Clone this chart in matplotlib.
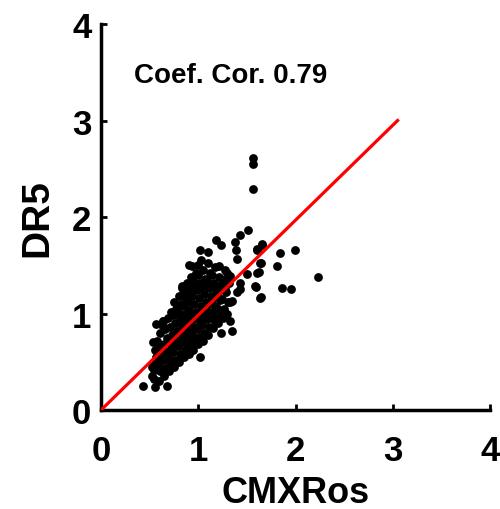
import matplotlib.pyplot as plt
import numpy as np

plt.rcParams['font.family'] = ['Liberation Sans', 'DejaVu Sans']

# dense core of the cloud, read column by column
cmx_core = [0.52, 0.55, 0.54, 0.57, 0.56, 0.53,
            0.60, 0.61, 0.59, 0.62, 0.60, 0.58, 0.61, 0.63,
            0.65, 0.66, 0.64, 0.67, 0.65, 0.68, 0.66, 0.64,
            0.70, 0.71, 0.69, 0.72, 0.70, 0.73, 0.71, 0.69, 0.72,
            0.75, 0.76, 0.74, 0.77, 0.75, 0.78, 0.76, 0.74, 0.77, 0.75,
            0.80, 0.81, 0.79, 0.82, 0.80, 0.83, 0.81, 0.79, 0.82, 0.80, 0.83,
            0.85, 0.86, 0.84, 0.87, 0.85, 0.88, 0.86, 0.84, 0.87, 0.85, 0.88,
            0.90, 0.91, 0.89, 0.92, 0.90, 0.93, 0.91, 0.89, 0.92, 0.90, 0.93, 0.91,
            0.95, 0.96, 0.94, 0.97, 0.95, 0.98, 0.96, 0.94, 0.97, 0.95, 0.98,
            1.00, 1.01, 0.99, 1.02, 1.00, 1.03, 1.01, 0.99, 1.02, 1.00, 1.03,
            1.05, 1.06, 1.04, 1.07, 1.05, 1.08, 1.06, 1.04, 1.07, 1.05,
            1.10, 1.11, 1.09, 1.12, 1.10, 1.13, 1.11, 1.09, 1.12, 1.10,
            1.15, 1.16, 1.14, 1.17, 1.15, 1.18, 1.16, 1.14, 1.17,
            1.20, 1.21, 1.19, 1.22, 1.20, 1.23, 1.21,
            1.25, 1.26, 1.24, 1.27, 1.25, 1.28,
            1.30, 1.31, 1.29, 1.32, 1.30]
dr5_core = [0.35, 0.42, 0.50, 0.55, 0.62, 0.70,
            0.30, 0.40, 0.48, 0.56, 0.64, 0.72, 0.80, 0.88,
            0.35, 0.44, 0.52, 0.60, 0.68, 0.75, 0.84, 0.92,
            0.40, 0.48, 0.55, 0.63, 0.70, 0.78, 0.86, 0.95, 1.02,
            0.45, 0.52, 0.60, 0.68, 0.75, 0.82, 0.90, 0.98, 1.05, 1.12,
            0.50, 0.58, 0.66, 0.74, 0.82, 0.88, 0.95, 1.02, 1.10, 1.18, 1.26,
            0.55, 0.62, 0.70, 0.78, 0.86, 0.93, 1.00, 1.08, 1.15, 1.22, 1.32,
            0.58, 0.66, 0.74, 0.82, 0.90, 0.97, 1.04, 1.12, 1.20, 1.28, 1.38, 1.50,
            0.62, 0.70, 0.78, 0.86, 0.94, 1.02, 1.10, 1.18, 1.26, 1.34, 1.42,
            0.68, 0.76, 0.84, 0.92, 1.00, 1.08, 1.16, 1.24, 1.32, 1.40, 1.55,
            0.72, 0.80, 0.88, 0.96, 1.04, 1.12, 1.20, 1.28, 1.36, 1.45,
            0.78, 0.86, 0.94, 1.02, 1.10, 1.18, 1.26, 1.34, 1.42, 1.52,
            0.85, 0.93, 1.00, 1.08, 1.16, 1.24, 1.32, 1.40, 1.48,
            0.90, 0.98, 1.06, 1.14, 1.22, 1.30, 1.38,
            0.95, 1.05, 1.15, 1.25, 1.35, 1.45,
            1.00, 1.12, 1.22, 1.32, 1.42]

# sparser points around the edge of the cloud
cmx_edge = [1.56, 1.56, 1.56, 1.51, 1.43, 1.38, 1.39, 1.40, 1.60, 1.66,
            1.84, 1.99, 1.81, 2.23, 1.65, 1.62, 1.50, 1.43, 1.58, 1.40,
            1.86, 1.95, 1.65, 1.33, 1.35, 1.18, 1.23, 1.02, 1.10, 0.94,
            1.00, 1.21, 0.83, 0.57, 0.64, 0.43, 0.56, 0.68, 0.54, 0.52,
            1.33, 1.35, 1.23, 1.02, 0.94, 1.33, 1.43, 1.59, 1.64, 1.60,
            1.64, 1.60, 1.66]
dr5_edge = [2.61, 2.55, 2.29, 1.87, 1.81, 1.74, 1.66, 1.57, 1.67, 1.72,
            1.63, 1.66, 1.49, 1.38, 1.52, 1.43, 1.41, 1.32, 1.29, 1.22,
            1.26, 1.25, 1.17, 1.39, 1.13, 1.76, 1.71, 1.66, 1.64, 1.49,
            1.50, 1.49, 1.29, 0.89, 0.92, 0.25, 0.24, 0.25, 0.32, 0.45,
            0.92, 0.82, 0.80, 0.55, 0.63, 1.12, 1.25, 1.28, 1.16, 1.42,
            1.52, 1.66, 1.71]

cmx = np.array(cmx_core + cmx_edge)
dr5 = np.array(dr5_core + dr5_edge)

fit_x = [0, 3.05]
fit_y = [0, 3.0]

fig = plt.figure(figsize=(5, 5.1), dpi=100)
ax = fig.add_axes([0.202, 0.194, 0.778, 0.757])

ax.scatter(cmx, dr5, s=40, c='black', linewidths=0, zorder=2)
ax.plot(fit_x, fit_y, color='#ff0000', lw=2.3, zorder=3)

ax.set_xlim(0, 4)
ax.set_ylim(0, 4)
ax.set_xticks([0, 1, 2, 3, 4])
ax.set_yticks([0, 1, 2, 3, 4])
for s in ['top', 'right']:
    ax.spines[s].set_visible(False)
for s in ['left', 'bottom']:
    ax.spines[s].set_linewidth(2.5)
ax.tick_params(axis='both', direction='in', length=4, width=2, labelsize=25)
ax.tick_params(axis='x', pad=17)
ax.tick_params(axis='y', pad=7)
for lab in ax.get_xticklabels() + ax.get_yticklabels():
    lab.set_fontweight('bold')

ax.set_xlabel('CMXRos', fontsize=26, fontweight='bold', labelpad=6)
ax.set_ylabel('DR5', fontsize=28, fontweight='bold', labelpad=12)
ax.text(0.34, 3.47, 'Coef. Cor. 0.79', fontsize=20, fontweight='bold', va='center')

plt.savefig('out.png', dpi=100)
